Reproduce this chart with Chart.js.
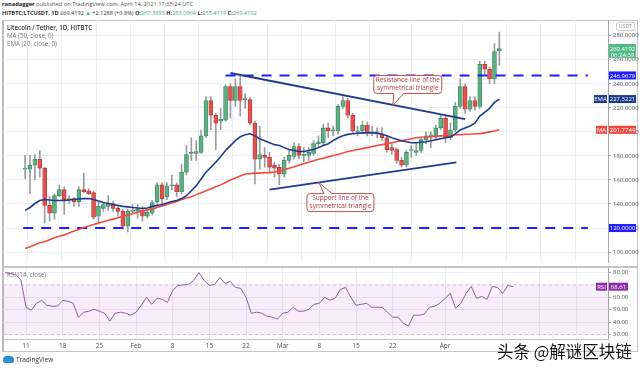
<!DOCTYPE html>
<html>
<head>
<meta charset="utf-8">
<script src="https://cdn.jsdelivr.net/npm/chart.js@4.4.1/dist/chart.umd.min.js"></script>
<style>
html, body { margin: 0; padding: 0; background: #fff; }
#wrap { position: relative; width: 640px; height: 369px; overflow: hidden; font-family: 'Open Sans', sans-serif; }
.abs { position: absolute; white-space: nowrap; line-height: 1; }
.g { color: #3fa97a; }
</style>
</head>
<body>
<div id="wrap">
  <div class="abs" style="left:2px;top:2px;font-size:5.7px;color:#555"><b style="color:#222">ranadagger</b> published on TradingView.com, April 14, 2021 17:35:24 UTC</div>
  <div class="abs" style="left:2px;top:11px;font-size:5.6px;color:#333"><b>HITBTC:LTCUSDT, 1D</b> 269.4192 <span class="g">&#9650;</span> +2.1288 (+0.8%) <b>O:</b><span class="g">267.3893</span> <b>H:</b><span class="g">283.0964</span> <b>L:</b><span class="g">255.4119</span> <b>C:</b><span class="g">269.4192</span></div>
  <div class="abs" style="left:2px;top:20px;width:636px;height:332px;border:1px solid #c3c6ce;border-left:2px solid #b8bbc4;box-sizing:border-box"></div>
  <canvas id="priceChart" class="abs" style="left:0;top:0" width="640" height="268"></canvas>
  <canvas id="rsiChart" class="abs" style="left:0;top:262px" width="640" height="90"></canvas>
  <div class="abs" style="left:2px;top:266px;width:636px;height:2px;background:#c3c6ce"></div>
  <div class="abs" style="left:7px;top:25px;font-size:6.2px;color:#333;font-weight:600">Litecoin / Tether, 1D, HITBTC</div>
  <div class="abs" style="left:7px;top:33px;font-size:6.2px;color:#777">MA (50, close, 0)</div>
  <div class="abs" style="left:7px;top:41px;font-size:6.2px;color:#777">EMA (20, close, 0)</div>
  <div class="abs" style="left:616px;top:22px;font-size:5px;color:#888;border:1px solid #ccc;border-radius:2px;padding:1px 2px">USDT</div>
  <div class="abs" style="left:7px;top:272px;font-size:6.2px;color:#777">RSI (14, close)</div>
  <div class="abs" style="left:3px;top:356px;width:11px;height:7px;background:#2d8ed8;border-radius:4px 4px 2px 2px"></div>
  <div class="abs" style="left:16px;top:357px;font-size:6.5px;color:#333">TradingView</div>
  <div class="abs" style="left:497px;top:343px;font-size:16.5px;color:#151515;font-family:'Noto Sans CJK SC',sans-serif">头条 @解谜区块链</div>
</div>
<script>
// LTC/USDT daily candles, 7 Jan - 14 Apr 2021
const opens = [169.0,169.0,172.3,177.2,169.8,138.8,132.3,146.9,151.9,143.7, 144.5,142.0,151.9,151.0,149.4,129.8,136.3,138.0,140.4,136.3,
  133.9,121.6,133.9,133.9,134.7,129.8,132.3,142.0,155.9,146.1, 155.1,155.9,150.2,166.5,182.0,182.0,182.9,196.7,226.1,213.9,
  209.0,209.8,237.6,226.1,237.6,226.9,226.9,207.3,177.2,180.4, 178.8,172.3,170.6,164.9,176.3,179.6,187.8,180.4,180.4,182.0,
  190.2,191.0,203.3,200.8,200.8,221.2,226.1,213.9,200.0,200.8, 205.7,199.2,200.0,198.4,195.1,186.9,185.3,176.3,172.3,184.5,
  182.9,184.5,193.5,196.7,196.7,203.3,211.4,195.1,201.6,221.2, 237.6,218.8,226.1,221.2,256.3,252.2,244.1,267.3893];
const highs = [180.4,180.4,181.2,184.5,170.6,146.1,148.6,155.9,154.3,146.9, 145.3,154.3,165.7,152.7,151.0,142.0,141.2,146.9,142.0,139.6,
  135.5,135.5,139.6,139.6,138.0,135.5,142.9,157.6,157.6,157.6, 164.1,157.6,173.1,188.6,195.1,192.7,201.6,229.4,229.4,215.5,
  219.6,239.2,240.0,244.1,246.5,231.8,228.6,209.0,204.9,186.9, 182.9,174.7,173.1,178.8,185.3,191.0,190.2,186.9,186.9,192.7,
  196.7,206.5,207.3,204.9,222.8,229.4,227.8,215.5,204.9,209.0, 208.2,204.9,203.3,203.3,196.7,190.2,186.9,178.8,184.5,188.6,
  190.2,195.1,200.0,200.0,205.7,214.7,213.9,207.3,224.5,244.1, 240.0,229.4,229.4,258.8,258.8,253.9,273.5,283.0964];
const lows = [160.8,148.6,160.0,162.4,124.1,125.7,127.4,146.1,131.4,140.4, 138.0,138.0,149.4,147.8,127.4,123.3,133.9,134.7,133.9,129.8,
  119.2,116.7,132.3,128.2,125.7,128.2,130.6,138.0,138.0,143.7, 151.9,146.1,148.6,164.1,176.3,176.3,182.0,195.1,201.6,185.3,
  201.6,209.0,211.4,221.2,213.1,219.6,205.7,156.7,169.0,170.6, 166.5,162.4,155.9,162.4,173.9,177.2,177.2,175.5,176.3,180.4,
  186.9,189.4,195.1,196.7,198.4,219.6,211.4,198.4,196.7,198.4, 196.7,196.7,195.1,192.7,182.9,181.2,173.9,170.6,170.6,178.8,
  180.4,182.9,190.2,186.9,194.3,201.6,191.0,193.5,200.0,219.6, 215.5,217.1,217.9,219.6,248.1,240.0,240.0,255.4119];
const closes = [169.8,172.3,177.2,169.8,138.8,132.3,146.9,151.9,143.7,144.5, 142.0,151.9,150.2,148.6,129.0,138.0,139.6,140.4,136.3,133.9,
  121.6,133.9,134.7,135.5,129.8,133.1,141.2,155.9,144.5,155.1, 155.9,150.2,166.5,181.2,182.9,183.7,196.7,226.1,213.9,207.3,
  210.6,237.6,226.1,237.6,226.1,227.8,207.3,177.2,181.2,178.8, 170.6,169.8,164.9,176.3,180.4,187.8,180.4,181.2,182.9,190.2,
  191.8,203.3,200.8,201.6,221.2,226.1,213.9,200.8,200.8,205.7, 199.2,200.0,198.4,195.1,185.3,184.5,176.3,172.3,182.9,185.3,
  184.5,193.5,196.7,197.6,203.3,211.4,195.1,201.6,221.2,237.6, 218.8,226.1,221.2,256.3,252.2,244.1,266.9,269.4192];

const ema20 = [134.7,137.1,140.4,142.9,143.7,143.3,142.9,142.9,142.9,143.3, 143.7,144.1,144.5,144.5,143.7,142.5,141.2,140.4,139.6,138.8,
  138.0,137.6,137.1,136.7,136.3,136.7,138.0,138.8,139.6,140.8, 142.0,142.9,144.5,146.9,151.0,155.1,160.8,166.5,170.6,174.7,
  179.6,184.5,188.6,192.7,195.9,197.6,198.4,196.7,194.3,192.7, 191.0,189.4,188.6,186.9,185.3,184.5,183.7,183.7,184.5,185.3,
  186.9,188.6,190.2,192.7,195.1,196.7,197.9,198.4,198.8,199.2, 199.2,199.2,198.8,198.0,196.7,195.1,193.9,192.7,191.8,191.0,
  191.0,191.4,191.8,192.7,193.5,194.3,195.1,195.9,198.4,201.6, 203.3,204.9,207.3,213.1,216.3,219.6,224.5,227.3221];
const ma50 = [103.0,104.5,106.1,107.8,108.6,110.2,111.9,113.1,114.3,115.9, 117.6,118.8,120.4,121.6,122.9,124.1,125.3,126.5,127.4,128.6,
  129.8,130.6,131.8,133.1,134.3,135.1,135.9,137.1,138.4,139.6, 140.8,142.0,143.7,144.9,146.1,147.8,149.4,151.0,152.7,154.3,
  155.9,157.9,160.0,161.6,163.3,164.9,165.3,165.7,165.7,166.1, 166.1,166.5,167.4,168.6,169.8,171.0,172.3,173.5,174.7,175.9,
  177.2,178.0,179.2,180.4,181.2,182.4,183.7,184.5,185.3,186.1, 186.9,187.8,188.6,189.4,190.2,191.0,191.8,192.7,193.5,194.3,
  195.1,195.5,195.9,195.9,196.3,196.7,196.7,197.1,197.6,197.6, 198.0,198.0,198.4,198.4,199.2,200.0,200.8,201.7744];
const rsi14 = [80,79.2,78.4,74.4,52,49.6,55.2,57.6,53.6,52.8, 52.8,57.6,56.8,55.2,44,48,48.8,50.4,48.8,47.2,
  40.8,47.2,48,47.2,45.6,48,53.6,60,54.4,59.2, 58.4,56,65.6,69.6,70,70.4,73.6,80,73.6,69.6,
  70.4,76,71.2,72.8,68,67.2,60,47.2,48,47.2, 44.8,44,42.4,47.2,48,52,48.8,48.8,50.4,54.4,
  55.2,60,57.6,59.2,66.4,68,60,53.6,54.4,55.2, 52,52,52,48,44,44,39.2,36.8,45.6,45.6,
  46.4,52,52.8,55.2,59.2,63.2,51.2,55.2,63.2,68.8, 59.2,60.8,58.4,68.8,68,63.2,69.6,68.61];

// triangle trendlines: [start index, end index] and prices
const resistanceIdx = [42, 90];
const resistancePrice = [249.0, 210.6];
const supportIdx = [50, 88.2];
const supportPrice = [151.9, 174.7];
const resistanceLevel = 246.9679;
const supportLevel = 120;

const tickIdx = [4, 11, 18, 25, 32, 39, 46, 53, 60, 67, 74, 84, 95, 102, 109];
const tickLabels = ['11', '18', '25', 'Feb', '8', '15', '22', 'Mar', '8', '15', '22', 'Apr', '', '', ''];
const priceTicks = [100, 120, 140, 160, 180, 200, 220, 240, 260, 280];
const rsiTicks = [30, 40, 50, 60, 70, 80];

Chart.defaults.font.family = "'Open Sans', sans-serif";
Chart.defaults.animation = false;

const xMin = -0.4, xMax = 115.1;
const idx = closes.map((_, i) => i);
const last = closes.length - 1;
const up = idx.map(i => closes[i] >= opens[i]);
const gridColor = '#eceef2';
const axisColor = '#a3a6af';

function lineSet(points, color, width, dash) {
    return {
        type: 'line', data: points, borderColor: color, borderWidth: width,
        borderDash: dash || [], pointRadius: 0, tension: 0, order: 0
    };
}

function tag(ctx, x, y, w, h, bg, text) {
    ctx.fillStyle = bg;
    ctx.fillRect(x, y - h / 2, w, h);
    ctx.fillStyle = '#fff';
    ctx.textAlign = 'center';
    ctx.textBaseline = 'middle';
    ctx.fillText(text, x + w / 2, y + 0.5);
}

const callouts = [
    { lines: ['Resistance line of the', 'symmetrical triangle'], tipIdx: 75.2, tipPrice: 222.0, dx: -19, dy: -30, w: 68, h: 18, base: [20, 30], below: false },
    { lines: ['Support line of the', 'symmetrical triangle'], tipIdx: 60.1, tipPrice: 157.8, dx: -12, dy: 11, w: 67, h: 18, base: [17, 25], below: true }
];

const priceOverlay = {
    id: 'priceOverlay',
    afterDatasetsDraw(chart) {
        const ctx = chart.ctx, sx = chart.scales.x, sy = chart.scales.y;
        ctx.save();
        callouts.forEach(c => {
            const tx = sx.getPixelForValue(c.tipIdx), ty = sy.getPixelForValue(c.tipPrice);
            const bx = tx + c.dx, by = ty + c.dy, r = 3;
            ctx.beginPath();
            ctx.moveTo(bx + r, by);
            if (c.below) {
                ctx.lineTo(bx + c.base[0], by); ctx.lineTo(tx, ty); ctx.lineTo(bx + c.base[1], by);
            }
            ctx.lineTo(bx + c.w - r, by); ctx.quadraticCurveTo(bx + c.w, by, bx + c.w, by + r);
            ctx.lineTo(bx + c.w, by + c.h - r); ctx.quadraticCurveTo(bx + c.w, by + c.h, bx + c.w - r, by + c.h);
            if (!c.below) {
                ctx.lineTo(bx + c.base[1], by + c.h); ctx.lineTo(tx, ty); ctx.lineTo(bx + c.base[0], by + c.h);
            }
            ctx.lineTo(bx + r, by + c.h); ctx.quadraticCurveTo(bx, by + c.h, bx, by + c.h - r);
            ctx.lineTo(bx, by + r); ctx.quadraticCurveTo(bx, by, bx + r, by);
            ctx.closePath();
            ctx.fillStyle = 'rgba(255,255,255,0.92)';
            ctx.fill();
            ctx.strokeStyle = '#c0504d';
            ctx.lineWidth = 1;
            ctx.stroke();
            ctx.fillStyle = '#b13e3e';
            ctx.font = '6.5px "Open Sans"';
            ctx.textAlign = 'center';
            ctx.textBaseline = 'middle';
            ctx.fillText(c.lines[0], bx + c.w / 2, by + 5);
            ctx.fillText(c.lines[1], bx + c.w / 2, by + 12.5);
        });
        ctx.restore();
    },
    afterDraw(chart) {
        const ctx = chart.ctx, sy = chart.scales.y;
        const ax = chart.chartArea.right + 1;
        ctx.save();
        ctx.font = '6px "Open Sans"';
        // last price with countdown
        const yc = sy.getPixelForValue(closes[last]);
        ctx.fillStyle = '#53b987';
        ctx.fillRect(ax, yc - 4.5, 27, 14);
        ctx.fillStyle = '#fff';
        ctx.textAlign = 'center';
        ctx.textBaseline = 'middle';
        ctx.fillText(closes[last].toFixed(4), ax + 13.5, yc + 0.5);
        ctx.fillText('06:24:39', ax + 13.5, yc + 6.5);
        tag(ctx, ax, sy.getPixelForValue(resistanceLevel), 27, 8, '#1e1eff', resistanceLevel.toFixed(4));
        tag(ctx, ax, sy.getPixelForValue(supportLevel), 27, 8, '#1e1eff', supportLevel.toFixed(4));
        const ye = sy.getPixelForValue(ema20[last]);
        tag(ctx, ax, ye, 27, 8, '#1f3b8f', ema20[last].toFixed(4));
        tag(ctx, ax - 15, ye, 13, 8, '#1f3b8f', 'EMA');
        const ym = sy.getPixelForValue(ma50[last]);
        tag(ctx, ax, ym, 27, 8, '#ef4b3f', ma50[last].toFixed(4));
        tag(ctx, ax - 13, ym, 11, 8, '#ef4b3f', 'MA');
        ctx.restore();
    }
};

new Chart(document.getElementById('priceChart'), {
    type: 'bar',
    data: {
        datasets: [
            lineSet(idx.map(i => ({ x: i, y: ema20[i] })), '#1f3b8f', 1.6),
            lineSet(idx.map(i => ({ x: i, y: ma50[i] })), '#ef4b3f', 1.6),
            lineSet(resistanceIdx.map((x, k) => ({ x, y: resistancePrice[k] })), '#1f3b8f', 1.8),
            lineSet(supportIdx.map((x, k) => ({ x, y: supportPrice[k] })), '#1f3b8f', 1.8),
            lineSet([{ x: 41, y: resistanceLevel }, { x: xMax, y: resistanceLevel }], '#1e1eff', 2, [10, 8]),
            lineSet([{ x: xMin, y: supportLevel }, { x: xMax, y: supportLevel }], '#1e1eff', 2, [10, 8]),
            {
                data: idx.map(i => ({ x: i, y: [opens[i], closes[i]] })),
                backgroundColor: up.map(u => u ? '#5fae84' : '#e2524f'),
                borderColor: up.map(u => u ? '#3d8a60' : '#b53a37'),
                borderWidth: 0.8, borderSkipped: false, barThickness: 4, minBarLength: 1,
                grouped: false, order: 2
            },
            {
                data: idx.map(i => ({ x: i, y: [lows[i], highs[i]] })),
                backgroundColor: '#9a9ca3', barThickness: 1, grouped: false, order: 3
            }
        ]
    },
    options: {
        responsive: false,
        layout: { padding: { left: 3, top: 20, right: 0, bottom: 1 } },
        plugins: { legend: { display: false }, tooltip: { enabled: false } },
        scales: {
            x: {
                type: 'linear', min: xMin, max: xMax,
                afterBuildTicks: s => { s.ticks = tickIdx.map(v => ({ value: v })); },
                afterFit: s => { s.height = 0; },
                ticks: { display: false },
                grid: { color: gridColor, drawTicks: false },
                border: { display: false }
            },
            y: {
                position: 'right', min: 91.4, max: 293.1,
                afterBuildTicks: s => { s.ticks = priceTicks.map(v => ({ value: v })); },
                afterFit: s => { s.width = 32; },
                ticks: { color: '#50535e', font: { size: 6 }, padding: 2, callback: v => Number(v).toFixed(4) },
                grid: { color: gridColor, tickColor: axisColor, tickLength: 3 },
                border: { color: axisColor }
            }
        }
    },
    plugins: [priceOverlay]
});

const rsiOverlay = {
    id: 'rsiOverlay',
    afterDraw(chart) {
        const ctx = chart.ctx, sy = chart.scales.y;
        const ax = chart.chartArea.right + 1;
        const y = sy.getPixelForValue(rsi14[last]);
        ctx.save();
        ctx.font = '6px "Open Sans"';
        tag(ctx, ax, y, 19, 8, '#8e2ba8', rsi14[last].toFixed(2));
        tag(ctx, ax - 13, y, 11, 8, '#8e2ba8', 'RSI');
        ctx.restore();
    }
};

new Chart(document.getElementById('rsiChart'), {
    type: 'line',
    data: {
        datasets: [
            { data: idx.map(i => ({ x: i, y: rsi14[i] })), borderColor: '#93609f', borderWidth: 1, pointRadius: 0, tension: 0, order: 0 },
            { data: [{ x: xMin, y: 70 }, { x: xMax, y: 70 }], borderColor: '#cdb8d6', borderWidth: 0.8, borderDash: [3, 3], pointRadius: 0, fill: '+1', backgroundColor: 'rgba(156,39,176,0.08)', order: 1 },
            { data: [{ x: xMin, y: 30 }, { x: xMax, y: 30 }], borderColor: '#cdb8d6', borderWidth: 0.8, borderDash: [3, 3], pointRadius: 0, order: 1 }
        ]
    },
    options: {
        responsive: false,
        layout: { padding: { left: 3, top: 5, right: 0, bottom: 0 } },
        plugins: { legend: { display: false }, tooltip: { enabled: false } },
        scales: {
            x: {
                type: 'linear', min: xMin, max: xMax,
                afterBuildTicks: s => { s.ticks = tickIdx.map(v => ({ value: v })); },
                afterFit: s => { s.height = 13; },
                ticks: { autoSkip: false, maxRotation: 0, color: '#50535e', font: { size: 6.5 }, padding: 3, callback: (v, k) => tickLabels[k] },
                grid: { color: gridColor, drawTicks: false },
                border: { color: '#c3c6ce' }
            },
            y: {
                position: 'right', min: 26.4, max: 84,
                afterBuildTicks: s => { s.ticks = rsiTicks.map(v => ({ value: v })); },
                afterFit: s => { s.width = 32; },
                ticks: { color: '#50535e', font: { size: 6 }, padding: 2, callback: v => Number(v).toFixed(2) },
                grid: { color: gridColor, tickColor: axisColor, tickLength: 3 },
                border: { color: axisColor }
            }
        }
    },
    plugins: [rsiOverlay]
});
</script>
</body>
</html>
